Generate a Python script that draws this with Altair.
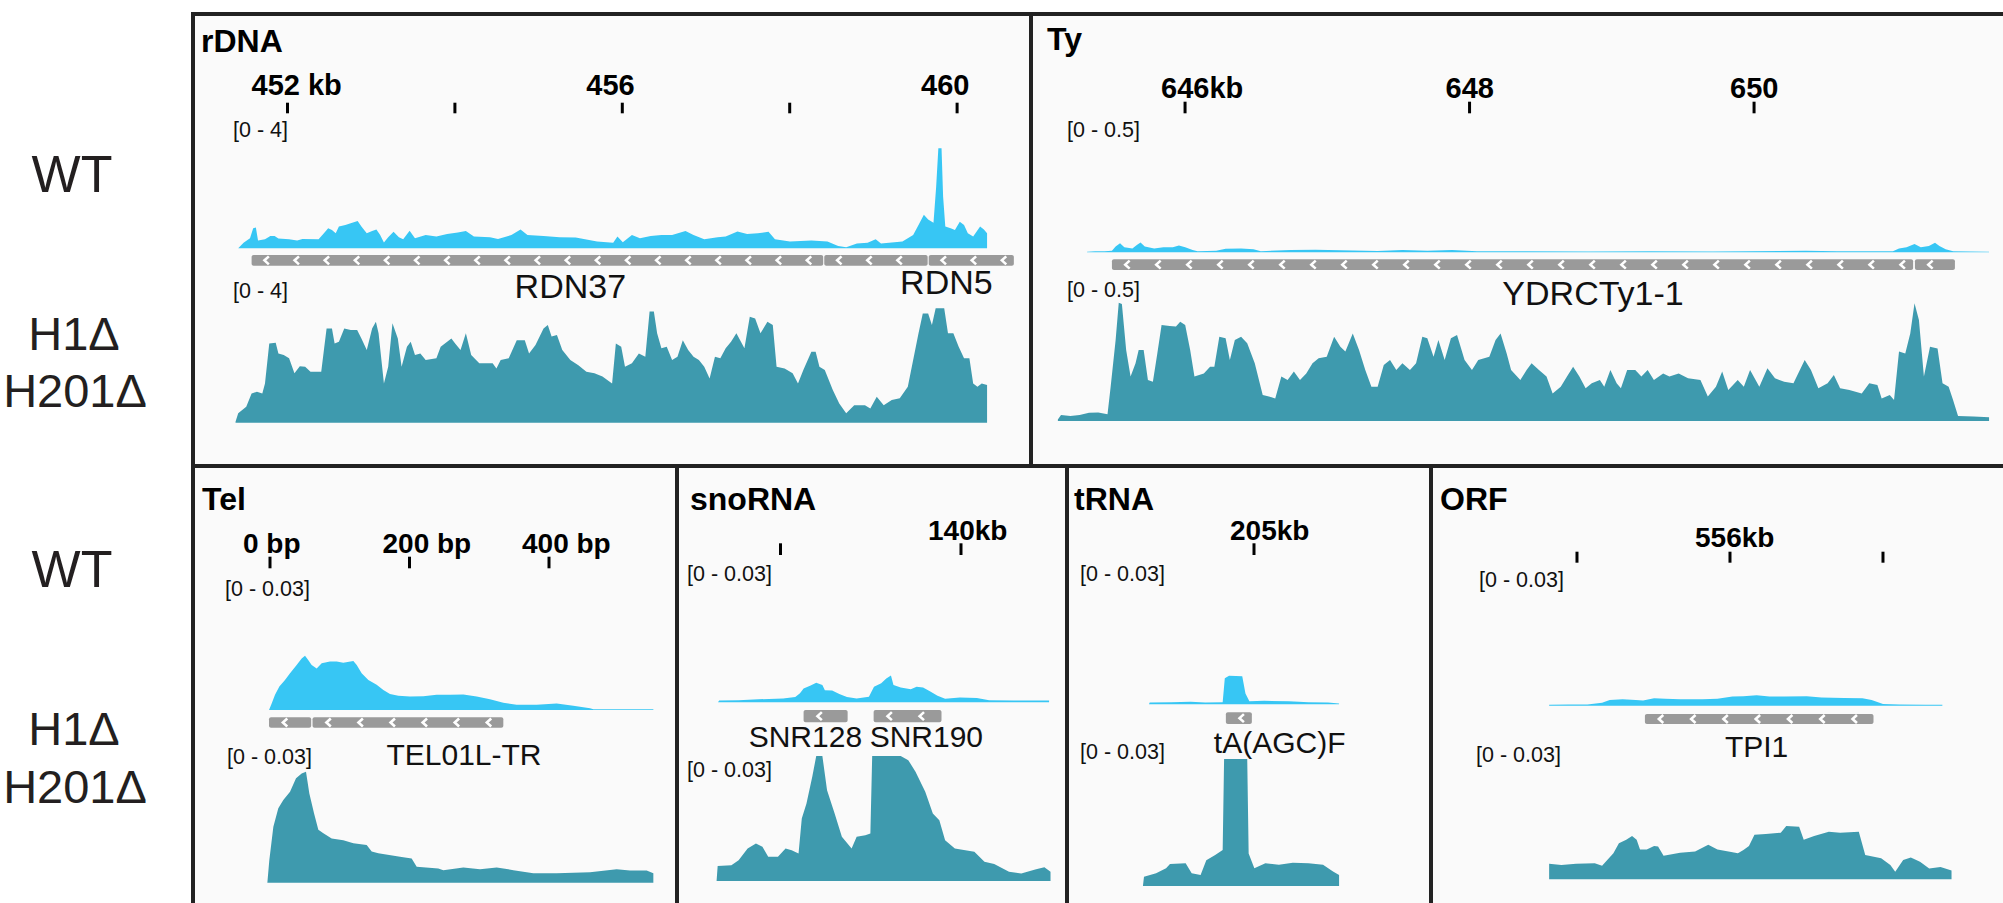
import altair as alt
import pandas as pd

FONT = "Liberation Sans"
WT_COLOR = "#37c6f4"
MUT_COLOR = "#3e9aae"
GENE_GRAY = "#9a9a9a"
BORDER = "#222222"
PANEL_BG = "#fafafa"
INK = "#111111"
LABEL_INK = "#231f20"

# ---------------------------------------------------------------- rDNA (kb)
RDNA_WT_POS = [
    451.411, 451.475, 451.552, 451.590, 451.622, 451.648, 451.731, 451.795, 451.846, 451.891,
    452.019, 452.115, 452.179, 452.371, 452.435, 452.486, 452.531, 452.576, 452.614, 452.691,
    452.755, 452.838, 452.883, 452.947, 453.011, 453.062, 453.107, 453.152, 453.203, 453.267,
    453.331, 453.382, 453.459, 453.523, 453.651, 453.779, 453.907, 454.035, 454.131, 454.227,
    454.419, 454.515, 454.675, 454.784, 454.867, 455.059, 455.251, 455.443, 455.699, 455.891,
    455.942, 456.006, 456.115, 456.211, 456.339, 456.467, 456.595, 456.755, 456.851, 456.979,
    457.139, 457.235, 457.376, 457.491, 457.619, 457.747, 457.824, 458.003, 458.259, 458.451,
    458.579, 458.675, 458.803, 458.931, 459.027, 459.091, 459.347, 459.475, 459.539, 459.603,
    459.654, 459.718, 459.750, 459.776, 459.814, 459.833, 459.859, 459.923, 459.974, 460.032,
    460.083, 460.128, 460.192, 460.275, 460.320, 460.358,
]
RDNA_WT_VAL = [
    0.00, 0.17, 0.31, 0.62, 0.64, 0.24, 0.28, 0.38, 0.38, 0.30,
    0.28, 0.24, 0.29, 0.28, 0.46, 0.62, 0.56, 0.46, 0.67, 0.72,
    0.77, 0.84, 0.67, 0.46, 0.53, 0.58, 0.41, 0.18, 0.34, 0.51,
    0.34, 0.28, 0.54, 0.31, 0.41, 0.36, 0.44, 0.49, 0.53, 0.36,
    0.34, 0.29, 0.41, 0.58, 0.41, 0.38, 0.34, 0.33, 0.21, 0.17,
    0.36, 0.19, 0.41, 0.31, 0.38, 0.41, 0.41, 0.53, 0.41, 0.28,
    0.34, 0.36, 0.52, 0.44, 0.46, 0.51, 0.28, 0.21, 0.24, 0.21,
    0.07, 0.03, 0.15, 0.17, 0.28, 0.15, 0.21, 0.41, 0.72, 1.03,
    0.89, 0.79, 1.90, 3.08, 3.08, 1.59, 0.67, 0.62, 0.56, 0.82,
    0.72, 0.46, 0.36, 0.67, 0.58, 0.46,
]
RDNA_MUT_POS = [
    451.379, 451.411, 451.507, 451.571, 451.635, 451.699, 451.731, 451.782, 451.859, 451.891,
    451.955, 452.019, 452.083, 452.147, 452.211, 452.275, 452.403, 452.435, 452.467, 452.531,
    452.563, 452.614, 452.678, 452.755, 452.832, 452.883, 452.947, 453.011, 453.056, 453.088,
    453.152, 453.203, 453.254, 453.318, 453.363, 453.427, 453.472, 453.523, 453.587, 453.651,
    453.779, 453.830, 453.958, 454.003, 454.067, 454.131, 454.195, 454.291, 454.451, 454.496,
    454.547, 454.643, 454.739, 454.835, 454.886, 454.963, 455.059, 455.110, 455.155, 455.219,
    455.283, 455.379, 455.475, 455.571, 455.667, 455.763, 455.878, 455.923, 455.987, 456.032,
    456.115, 456.198, 456.275, 456.326, 456.377, 456.416, 456.467, 456.531, 456.595, 456.659,
    456.723, 456.787, 456.851, 456.915, 456.979, 457.043, 457.107, 457.171, 457.235, 457.299,
    457.363, 457.459, 457.523, 457.587, 457.651, 457.734, 457.798, 457.843, 457.939, 458.035,
    458.099, 458.163, 458.259, 458.310, 458.355, 458.419, 458.515, 458.592, 458.675, 458.771,
    458.899, 458.963, 459.040, 459.123, 459.219, 459.315, 459.411, 459.475, 459.539, 459.590,
    459.654, 459.699, 459.744, 459.846, 459.891, 459.955, 460.019, 460.083, 460.147, 460.192,
    460.243, 460.294, 460.358,
]
RDNA_MUT_VAL = [
    0.03, 0.29, 0.49, 0.90, 0.95, 0.90, 1.21, 2.44, 2.46, 2.13,
    2.08, 1.98, 1.52, 1.74, 1.72, 1.57, 1.57, 2.24, 2.90, 2.90,
    2.44, 2.49, 2.90, 2.85, 2.85, 2.59, 2.24, 2.90, 3.11, 2.75,
    1.21, 1.72, 3.06, 2.59, 1.72, 2.34, 2.49, 2.08, 2.13, 1.93,
    1.98, 2.34, 2.59, 2.44, 2.24, 2.75, 2.08, 1.83, 1.83, 1.67,
    1.93, 1.98, 2.54, 2.54, 2.13, 2.39, 2.90, 3.01, 2.65, 2.70,
    2.24, 1.93, 1.77, 1.57, 1.52, 1.42, 1.21, 2.44, 2.34, 1.72,
    1.83, 2.13, 2.03, 3.42, 3.42, 2.75, 2.29, 2.34, 1.93, 2.03,
    2.54, 2.24, 2.03, 1.93, 1.72, 1.36, 2.03, 1.98, 2.29, 2.49,
    2.75, 2.29, 3.26, 3.21, 2.75, 3.11, 3.01, 1.72, 1.67, 1.52,
    1.21, 1.62, 2.18, 2.18, 1.72, 1.62, 1.01, 0.59, 0.29, 0.54,
    0.54, 0.44, 0.80, 0.54, 0.70, 0.75, 1.11, 1.93, 2.75, 3.36,
    3.36, 3.01, 3.52, 3.52, 2.75, 2.75, 2.34, 1.98, 1.98, 1.21,
    1.11, 1.21, 1.16,
]
RDNA_GENE_START = [451.571, 458.413, 459.661]
RDNA_GENE_END = [458.400, 459.648, 460.678]
RDNA_GENE_NAMES = ["RDN37", "RDN5"]
RDNA_GENE_NAME_POS = [455.379, 459.872]

# ---------------------------------------------------------------- Ty (kb)
TY_WT_POS = [
    645.311, 645.368, 645.434, 645.486, 645.512, 645.543, 645.573, 645.630, 645.661, 645.687,
    645.717, 645.783, 645.848, 645.914, 645.957, 646.001, 646.053, 646.088, 646.219, 646.285,
    646.394, 646.481, 646.533, 646.743, 646.917, 647.092, 647.354, 647.528, 647.703, 647.877,
    648.052, 648.401, 648.837, 649.274, 649.710, 650.365, 650.583, 650.976, 651.019, 651.072,
    651.128, 651.172, 651.229, 651.272, 651.303, 651.347, 651.399, 651.652,
]
TY_WT_VAL = [
    0.002, 0.004, 0.004, 0.006, 0.022, 0.035, 0.019, 0.015, 0.028, 0.038,
    0.022, 0.015, 0.019, 0.019, 0.026, 0.019, 0.009, 0.004, 0.006, 0.014,
    0.015, 0.012, 0.004, 0.009, 0.010, 0.008, 0.005, 0.009, 0.006, 0.009,
    0.004, 0.004, 0.003, 0.004, 0.003, 0.006, 0.004, 0.004, 0.015, 0.019,
    0.032, 0.019, 0.024, 0.037, 0.024, 0.012, 0.004, 0.002,
]
TY_MUT_POS = [
    645.106, 645.128, 645.194, 645.259, 645.325, 645.390, 645.455, 645.477, 645.512, 645.534,
    645.556, 645.586, 645.617, 645.652, 645.674, 645.709, 645.739, 645.774, 645.805, 645.835,
    645.892, 645.936, 645.966, 646.001, 646.036, 646.066, 646.132, 646.176, 646.206, 646.241,
    646.285, 646.315, 646.350, 646.394, 646.437, 646.490, 646.546, 646.590, 646.634, 646.677,
    646.721, 646.765, 646.808, 646.852, 646.896, 646.939, 646.996, 647.048, 647.092, 647.127,
    647.179, 647.223, 647.267, 647.310, 647.354, 647.397, 647.441, 647.485, 647.528, 647.581,
    647.624, 647.668, 647.703, 647.747, 647.781, 647.825, 647.869, 647.912, 647.965, 648.017,
    648.061, 648.139, 648.183, 648.218, 648.261, 648.292, 648.357, 648.401, 648.436, 648.488,
    648.541, 648.584, 648.641, 648.685, 648.728, 648.772, 648.816, 648.859, 648.916, 648.947,
    648.990, 649.034, 649.064, 649.108, 649.165, 649.208, 649.252, 649.296, 649.361, 649.405,
    649.470, 649.536, 649.623, 649.675, 649.732, 649.776, 649.819, 649.885, 649.928, 649.972,
    650.037, 650.094, 650.147, 650.212, 650.277, 650.356, 650.400, 650.452, 650.517, 650.561,
    650.605, 650.670, 650.757, 650.810, 650.867, 650.897, 650.954, 650.984, 651.019, 651.063,
    651.098, 651.128, 651.159, 651.194, 651.237, 651.290, 651.325, 651.368, 651.399, 651.434,
    651.543, 651.652,
]
TY_MUT_VAL = [
    0.006, 0.023, 0.019, 0.023, 0.032, 0.033, 0.026, 0.132, 0.312, 0.455,
    0.450, 0.273, 0.171, 0.222, 0.273, 0.273, 0.158, 0.151, 0.260, 0.369,
    0.365, 0.363, 0.382, 0.369, 0.273, 0.171, 0.183, 0.209, 0.209, 0.324,
    0.318, 0.235, 0.312, 0.324, 0.299, 0.222, 0.100, 0.094, 0.087, 0.171,
    0.158, 0.190, 0.158, 0.183, 0.222, 0.241, 0.247, 0.324, 0.286, 0.267,
    0.337, 0.273, 0.196, 0.132, 0.132, 0.215, 0.235, 0.196, 0.222, 0.196,
    0.222, 0.324, 0.318, 0.247, 0.312, 0.235, 0.318, 0.331, 0.235, 0.196,
    0.235, 0.247, 0.312, 0.337, 0.260, 0.196, 0.158, 0.196, 0.222, 0.196,
    0.171, 0.106, 0.132, 0.171, 0.209, 0.171, 0.126, 0.145, 0.158, 0.132,
    0.196, 0.145, 0.126, 0.196, 0.196, 0.171, 0.196, 0.158, 0.183, 0.171,
    0.183, 0.164, 0.158, 0.094, 0.132, 0.190, 0.119, 0.158, 0.132, 0.196,
    0.132, 0.203, 0.164, 0.151, 0.145, 0.235, 0.196, 0.126, 0.145, 0.177,
    0.126, 0.119, 0.106, 0.145, 0.138, 0.087, 0.100, 0.081, 0.267, 0.260,
    0.337, 0.453, 0.388, 0.171, 0.286, 0.279, 0.145, 0.132, 0.081, 0.019,
    0.017, 0.014,
]
TY_GENE_START = [645.486, 651.131]
TY_GENE_END = [651.118, 651.412]
TY_GENE_NAMES = ["YDRCTy1-1"]
TY_GENE_NAME_POS = [648.868]

# ---------------------------------------------------------------- Tel (bp)
TEL_WT_POS = [
    -1.4, 2.4, 7.2, 13.4, 21.5, 28.7, 38.2, 45.4, 50.2, 55.0,
    59.7, 66.9, 74.1, 86.0, 95.6, 105.1, 119.5, 124.3, 131.4, 141.0,
    152.9, 162.5, 172.0, 184.0, 200.7, 219.8, 238.9, 258.1, 277.2, 296.3,
    315.4, 334.5, 353.6, 382.3, 411.0, 434.9, 458.8, 463.6, 549.6,
]
TEL_WT_VAL = [
    0.0, 0.0015, 0.0035, 0.0054, 0.0069, 0.0085, 0.0104, 0.0119, 0.0125, 0.0115,
    0.0104, 0.0096, 0.0108, 0.0112, 0.0112, 0.0109, 0.0113, 0.0104, 0.0085, 0.0069,
    0.0058, 0.0046, 0.0037, 0.0033, 0.0031, 0.0032, 0.0035, 0.0035, 0.0036, 0.0031,
    0.0025, 0.0017, 0.0012, 0.0012, 0.0015, 0.0010, 0.0004, 0.0002, 0.0002,
]
TEL_MUT_POS = [
    -3.8, -1.0, 4.8, 11.9, 19.1, 28.7, 37.3, 45.4, 51.6, 56.4,
    63.1, 69.3, 76.5, 88.4, 105.1, 119.5, 138.6, 145.8, 155.3, 186.4,
    203.1, 210.3, 241.3, 248.5, 277.2, 301.1, 325.0, 348.9, 377.5, 411.0,
    458.8, 497.0, 516.1, 540.0, 549.6,
]
TEL_MUT_VAL = [
    0.0, 0.0052, 0.0129, 0.0172, 0.0191, 0.0210, 0.0241, 0.0252, 0.0256, 0.0206,
    0.0160, 0.0122, 0.0114, 0.0102, 0.0098, 0.0091, 0.0087, 0.0072, 0.0068, 0.0060,
    0.0056, 0.0037, 0.0033, 0.0029, 0.0035, 0.0031, 0.0035, 0.0029, 0.0022, 0.0022,
    0.0024, 0.0031, 0.0028, 0.0028, 0.0022,
]
TEL_GENE_START = [-1.4, 61.0]
TEL_GENE_END = [59.0, 334.5]
TEL_GENE_NAMES = ["TEL01L-TR"]
TEL_GENE_NAME_POS = [278.1]

# ---------------------------------------------------------------- snoRNA (kb)
SNO_WT_POS = [
    139.327, 139.330, 139.384, 139.439, 139.507, 139.541, 139.554, 139.564, 139.582, 139.599,
    139.616, 139.623, 139.643, 139.663, 139.684, 139.711, 139.745, 139.759, 139.779, 139.793,
    139.806, 139.813, 139.833, 139.861, 139.877, 139.895, 139.915, 139.935, 139.956, 139.997,
    140.044, 140.078, 140.146, 140.174, 140.244,
]
SNO_WT_VAL = [
    0.0, 0.0004, 0.0005, 0.0007, 0.0009, 0.0012, 0.0021, 0.0032, 0.0038, 0.0045,
    0.0040, 0.0028, 0.0027, 0.0019, 0.0012, 0.0009, 0.0013, 0.0036, 0.0044, 0.0055,
    0.0062, 0.0040, 0.0034, 0.0030, 0.0036, 0.0034, 0.0025, 0.0015, 0.0008, 0.0011,
    0.0010, 0.0005, 0.0004, 0.0004, 0.0004,
]
SNO_MUT_POS = [
    139.323, 139.326, 139.364, 139.384, 139.409, 139.432, 139.450, 139.466, 139.493, 139.514,
    139.531, 139.550, 139.559, 139.572, 139.588, 139.599, 139.616, 139.629, 139.650, 139.670,
    139.697, 139.711, 139.735, 139.749, 139.754, 139.833, 139.854, 139.874, 139.901, 139.922,
    139.940, 139.956, 139.983, 140.037, 140.065, 140.092, 140.133, 140.167, 140.208, 140.231,
    140.248,
]
SNO_MUT_VAL = [
    0.0, 0.0036, 0.0038, 0.0050, 0.0078, 0.0090, 0.0082, 0.0058, 0.0058, 0.0078,
    0.0074, 0.0066, 0.0150, 0.0186, 0.0250, 0.0300, 0.0300, 0.0218, 0.0162, 0.0106,
    0.0078, 0.0106, 0.0110, 0.0114, 0.0300, 0.0300, 0.0290, 0.0262, 0.0214, 0.0162,
    0.0146, 0.0098, 0.0078, 0.0070, 0.0046, 0.0041, 0.0022, 0.0018, 0.0028, 0.0033,
    0.0022,
]
SNO_GENE_START = [139.564, 139.758]
SNO_GENE_END = [139.686, 139.946]
SNO_GENE_NAMES = ["SNR128", "SNR190"]
SNO_GENE_NAME_POS = [139.569, 139.904]

# ---------------------------------------------------------------- tRNA (kb)
TRNA_WT_POS = [
    204.705, 204.707, 204.767, 204.822, 204.863, 204.912, 204.918, 204.930, 204.967, 204.976,
    204.987, 205.029, 205.098, 205.153, 205.208, 205.239,
]
TRNA_WT_VAL = [
    0.0, 0.0004, 0.0005, 0.0006, 0.0004, 0.0005, 0.0060, 0.0066, 0.0065, 0.0025,
    0.0007, 0.0008, 0.0007, 0.0005, 0.0004, 0.0002,
]
TRNA_MUT_POS = [
    204.688, 204.691, 204.725, 204.753, 204.764, 204.808, 204.825, 204.850, 204.866, 204.891,
    204.912, 204.916, 204.981, 204.985, 205.001, 205.032, 205.070, 205.109, 205.153, 205.194,
    205.222, 205.239,
]
TRNA_MUT_VAL = [
    0.0, 0.0022, 0.0030, 0.0042, 0.0052, 0.0054, 0.0030, 0.0026, 0.0061, 0.0073,
    0.0085, 0.0300, 0.0300, 0.0077, 0.0042, 0.0054, 0.0050, 0.0055, 0.0054, 0.0050,
    0.0034, 0.0026,
]
TRNA_GENE_START = [204.921]
TRNA_GENE_END = [204.994]
TRNA_GENE_NAMES = ["tA(AGC)F"]
TRNA_GENE_NAME_POS = [205.072]

# ---------------------------------------------------------------- ORF (kb)
ORF_WT_POS = [
    555.409, 555.473, 555.534, 555.582, 555.607, 555.649, 555.692, 555.716, 555.752, 555.789,
    555.837, 555.910, 555.959, 556.008, 556.044, 556.087, 556.129, 556.178, 556.251, 556.299,
    556.372, 556.433, 556.463, 556.500, 556.554, 556.639, 556.694,
]
ORF_WT_VAL = [
    0.0002, 0.0003, 0.0003, 0.0007, 0.0013, 0.0015, 0.0013, 0.0012, 0.0017, 0.0016,
    0.0015, 0.0015, 0.0016, 0.0021, 0.0022, 0.0024, 0.0021, 0.0021, 0.0022, 0.0019,
    0.0018, 0.0017, 0.0013, 0.0004, 0.0003, 0.0002, 0.0002,
]
ORF_MUT_POS = [
    555.409, 555.449, 555.497, 555.558, 555.582, 555.619, 555.637, 555.661, 555.680, 555.695,
    555.706, 555.728, 555.752, 555.765, 555.783, 555.837, 555.886, 555.929, 555.959, 555.995,
    556.026, 556.044, 556.062, 556.080, 556.117, 556.166, 556.184, 556.226, 556.241, 556.275,
    556.323, 556.360, 556.421, 556.442, 556.494, 556.524, 556.540, 556.566, 556.591, 556.621,
    556.651, 556.688, 556.724,
]
ORF_MUT_VAL = [
    0.0037, 0.0034, 0.0037, 0.0038, 0.0032, 0.0062, 0.0086, 0.0094, 0.0103, 0.0094,
    0.0071, 0.0071, 0.0079, 0.0078, 0.0056, 0.0063, 0.0066, 0.0082, 0.0071, 0.0066,
    0.0062, 0.0070, 0.0079, 0.0106, 0.0108, 0.0111, 0.0127, 0.0125, 0.0094, 0.0103,
    0.0113, 0.0111, 0.0113, 0.0058, 0.0050, 0.0034, 0.0018, 0.0046, 0.0052, 0.0042,
    0.0026, 0.0029, 0.0021,
]
ORF_GENE_START = [555.722]
ORF_GENE_END = [556.469]
ORF_GENE_NAMES = ["TPI1"]
ORF_GENE_NAME_POS = [556.087]

# ruler ticks
RDNA_TICKS = [452, 454, 456, 458, 460]
RDNA_TICK_LABELS = ["452 kb", "", "456", "", "460"]
TY_TICKS = [646, 648, 650]
TY_TICK_LABELS = ["646kb", "648", "650"]
TEL_TICKS = [0, 200, 400]
TEL_TICK_LABELS = ["0 bp", "200 bp", "400 bp"]
SNO_TICKS = [139.5, 140.0]
SNO_TICK_LABELS = ["", "140kb"]
TRNA_TICKS = [205.0]
TRNA_TICK_LABELS = ["205kb"]
ORF_TICKS = [555.5, 556.0, 556.5]
ORF_TICK_LABELS = ["", "556kb", ""]

ROW_WT = "WT"
ROW_MUT = ["H1\u0394", "H201\u0394"]

# IGV-style strand chevron
CHEVRON = "M0.55,-1 L-0.55,0 L0.55,1"

FRAME = 4      # width of the dark panel frame
OFF = 2        # layout positions below are measured from the frame's centre line


def chevron_positions(starts, ends, spacing):
    out = []
    for a, b in zip(starts, ends):
        p = a + spacing / 2
        while p < b - spacing * 0.2:
            out.append(p)
            p += spacing
    return out


def text_layer(t, x, y, size, weight="normal", align="left", color=INK):
    return alt.Chart(pd.DataFrame({"t": [t]})).mark_text(
        font=FONT, fontSize=size, fontWeight=weight, align=align,
        baseline="alphabetic", color=color,
    ).encode(x=alt.value(x), y=alt.value(y), text="t:N")


def build_panel(p):
    W, H = p["size"]
    xs = alt.Scale(domain=p["domain"], nice=False, zero=False)

    def xq(field="pos"):
        return alt.X(f"{field}:Q", scale=xs, axis=None)

    layers = []
    # coverage tracks
    for pos, val, ymax, base, top, color in p["tracks"]:
        if len(pos) != len(val):
            raise ValueError(f"{p['title']}: {len(pos)} positions vs {len(val)} values")
        df = pd.DataFrame({"pos": pos, "val": val})
        layers.append(
            alt.Chart(df).mark_area(color=color, interpolate="linear").encode(
                x=xq(),
                y=alt.Y("val:Q", axis=None,
                        scale=alt.Scale(domain=[0, ymax], range=[base + OFF, top + OFF],
                                        clamp=True, nice=False)),
            )
        )

    # ruler
    ticks = pd.DataFrame({"pos": p["ticks"], "label": p["tick_labels"]})
    ty0, ty1 = p["tick_y"]
    layers.append(alt.Chart(ticks).mark_rule(color="black", strokeWidth=3).encode(
        x=xq(), y=alt.value(ty0 + OFF), y2=alt.value(ty1 + OFF)))
    layers.append(alt.Chart(ticks).mark_text(
        font=FONT, fontSize=p["tick_fs"], fontWeight="bold", align="left",
        baseline="alphabetic", dx=p["tick_dx"], color="black",
    ).encode(x=xq(), y=alt.value(p["tick_label_y"] + OFF), text="label:N"))

    # gene annotation
    gstart, gend = p["genes"]
    genes = pd.DataFrame({"start": gstart, "end": gend})
    gy0, gy1 = p["gene_y"]
    layers.append(alt.Chart(genes).mark_rect(color=GENE_GRAY, cornerRadius=2).encode(
        x=xq("start"), x2="end:Q", y=alt.value(gy0 + OFF), y2=alt.value(gy1 + OFF)))
    chev = pd.DataFrame({"pos": chevron_positions(gstart, gend, p["chev_step"])})
    layers.append(alt.Chart(chev).mark_point(
        shape=CHEVRON, filled=False, stroke="white", strokeWidth=2.6, size=64, opacity=1,
    ).encode(x=xq(), y=alt.value((gy0 + gy1) / 2 + OFF)))
    names, name_pos = p["gene_names"]
    for i, (n, gp) in enumerate(zip(names, name_pos)):
        nd = pd.DataFrame({"pos": [gp], "t": [n]})
        layers.append(alt.Chart(nd).mark_text(
            font=FONT, fontSize=p["gene_fs"], align="center", baseline="alphabetic", color=INK,
        ).encode(x=xq(), y=alt.value(p["gene_label_y"][i] + OFF), text="t:N"))

    # data range labels and panel title
    for t, x, y in p["range_labels"]:
        layers.append(text_layer(t, x + OFF, y + OFF, 21.5))
    tx, tyy = p["title_xy"]
    layers.append(text_layer(p["title"], tx + OFF, tyy + OFF, 32, weight="bold", color="black"))

    # panel frame: top and left edges, kept inside the panel
    frame = pd.DataFrame({"k": [0]})
    layers.append(alt.Chart(frame).mark_rect(color=BORDER).encode(
        x=alt.value(0), x2=alt.value(W), y=alt.value(0), y2=alt.value(FRAME)))
    layers.append(alt.Chart(frame).mark_rect(color=BORDER).encode(
        x=alt.value(0), x2=alt.value(FRAME), y=alt.value(0), y2=alt.value(H)))

    return alt.layer(*layers).resolve_scale(y="independent").properties(
        width=W, height=H, view=alt.ViewBackground(fill=PANEL_BG, stroke=None))


TOP_H, BOT_H = 452, 439
LABEL_W = 191

panels = {
    "rDNA": dict(
        title="rDNA", size=(838, TOP_H), domain=[450.847, 460.859], title_xy=(8, 37.7),
        ticks=RDNA_TICKS, tick_labels=RDNA_TICK_LABELS, tick_y=(88.7, 99.3),
        tick_label_y=81, tick_dx=-36, tick_fs=29,
        range_labels=[("[0 - 4]", 40, 123.3), ("[0 - 4]", 40, 283.6)],
        tracks=[(RDNA_WT_POS, RDNA_WT_VAL, 4, 234.3, 104.3, WT_COLOR),
                (RDNA_MUT_POS, RDNA_MUT_VAL, 4, 408.7, 278.7, MUT_COLOR)],
        genes=(RDNA_GENE_START, RDNA_GENE_END), gene_y=(241, 251.7), chev_step=0.36,
        gene_names=(RDNA_GENE_NAMES, RDNA_GENE_NAME_POS), gene_label_y=[283.5, 280], gene_fs=34,
    ),
    "Ty": dict(
        title="Ty", size=(974, TOP_H), domain=[644.903, 651.750], title_xy=(16, 36),
        ticks=TY_TICKS, tick_labels=TY_TICK_LABELS, tick_y=(87.7, 99.3),
        tick_label_y=84.3, tick_dx=-24, tick_fs=29,
        range_labels=[("[0 - 0.5]", 36, 123.3), ("[0 - 0.5]", 36, 283.3)],
        tracks=[(TY_WT_POS, TY_WT_VAL, 0.5, 238.3, 108.3, WT_COLOR),
                (TY_MUT_POS, TY_MUT_VAL, 0.5, 407, 277, MUT_COLOR)],
        genes=(TY_GENE_START, TY_GENE_END), gene_y=(245.3, 256), chev_step=0.218,
        gene_names=(TY_GENE_NAMES, TY_GENE_NAME_POS), gene_label_y=[291], gene_fs=34,
    ),
    "Tel": dict(
        title="Tel", size=(484, BOT_H), domain=[-113.27, 580.64], title_xy=(9, 44),
        ticks=TEL_TICKS, tick_labels=TEL_TICK_LABELS, tick_y=(90.7, 102.3),
        tick_label_y=87.3, tick_dx=-27, tick_fs=28,
        range_labels=[("[0 - 0.03]", 32, 129.6), ("[0 - 0.03]", 34, 297.9)],
        tracks=[(TEL_WT_POS, TEL_WT_VAL, 0.03, 244, 114, WT_COLOR),
                (TEL_MUT_POS, TEL_MUT_VAL, 0.03, 416.7, 286.7, MUT_COLOR)],
        genes=(TEL_GENE_START, TEL_GENE_END), gene_y=(251.3, 261.7), chev_step=46,
        gene_names=(TEL_GENE_NAMES, TEL_GENE_NAME_POS), gene_label_y=[299], gene_fs=30,
    ),
    "snoRNA": dict(
        title="snoRNA", size=(390, BOT_H), domain=[139.2078, 140.2881], title_xy=(13, 44),
        ticks=SNO_TICKS, tick_labels=SNO_TICK_LABELS, tick_y=(77.3, 89),
        tick_label_y=74, tick_dx=-33, tick_fs=28,
        range_labels=[("[0 - 0.03]", 10, 114.6), ("[0 - 0.03]", 10, 311.3)],
        tracks=[(SNO_WT_POS, SNO_WT_VAL, 0.03, 236.3, 106.3, WT_COLOR),
                (SNO_MUT_POS, SNO_MUT_VAL, 0.03, 415, 290, MUT_COLOR)],
        genes=(SNO_GENE_START, SNO_GENE_END), gene_y=(244, 256.3), chev_step=0.089,
        gene_names=(SNO_GENE_NAMES, SNO_GENE_NAME_POS), gene_label_y=[281.3, 281.3], gene_fs=30,
    ),
    "tRNA": dict(
        title="tRNA", size=(364, BOT_H), domain=[204.4691, 205.4916], title_xy=(7, 44),
        ticks=TRNA_TICKS, tick_labels=TRNA_TICK_LABELS, tick_y=(77.3, 89),
        tick_label_y=74, tick_dx=-24, tick_fs=28,
        range_labels=[("[0 - 0.03]", 13, 114.6), ("[0 - 0.03]", 13, 292.9)],
        tracks=[(TRNA_WT_POS, TRNA_WT_VAL, 0.03, 238.3, 108.3, WT_COLOR),
                (TRNA_MUT_POS, TRNA_MUT_VAL, 0.03, 420, 293, MUT_COLOR)],
        genes=(TRNA_GENE_START, TRNA_GENE_END), gene_y=(246.3, 258), chev_step=0.089,
        gene_names=(TRNA_GENE_NAMES, TRNA_GENE_NAME_POS), gene_label_y=[287], gene_fs=30,
    ),
    "ORF": dict(
        title="ORF", size=(574, BOT_H), domain=[555.0164, 556.8922], title_xy=(9, 44),
        ticks=ORF_TICKS, tick_labels=ORF_TICK_LABELS, tick_y=(85.7, 96.7),
        tick_label_y=81.3, tick_dx=-35, tick_fs=28,
        range_labels=[("[0 - 0.03]", 48, 121.3), ("[0 - 0.03]", 45, 296.3)],
        tracks=[(ORF_WT_POS, ORF_WT_VAL, 0.03, 239.7, 109.7, WT_COLOR),
                (ORF_MUT_POS, ORF_MUT_VAL, 0.03, 413.3, 287.3, MUT_COLOR)],
        genes=(ORF_GENE_START, ORF_GENE_END), gene_y=(248, 258), chev_step=0.1055,
        gene_names=(ORF_GENE_NAMES, ORF_GENE_NAME_POS), gene_label_y=[290.7], gene_fs=30,
    ),
}


def sample_labels(height, wt_y, mut_y1, mut_y2):
    layers = [
        text_layer(ROW_WT, 72, wt_y, 52, align="center", color=LABEL_INK),
        text_layer(ROW_MUT[0], 74, mut_y1, 47, align="center", color=LABEL_INK),
        text_layer(ROW_MUT[1], 75, mut_y2, 47, align="center", color=LABEL_INK),
    ]
    return alt.layer(*layers).properties(
        width=LABEL_W, height=height, view=alt.ViewBackground(fill="white", stroke=None))


top_row = alt.hconcat(
    sample_labels(TOP_H, 180, 338, 395),
    build_panel(panels["rDNA"]), build_panel(panels["Ty"]),
    spacing=0, bounds="flush",
)
bottom_row = alt.hconcat(
    sample_labels(BOT_H, 123, 281, 339),
    build_panel(panels["Tel"]), build_panel(panels["snoRNA"]),
    build_panel(panels["tRNA"]), build_panel(panels["ORF"]),
    spacing=0, bounds="flush",
)

chart = alt.vconcat(top_row, bottom_row, spacing=0).properties(
    padding={"left": 0, "top": 12, "right": 0, "bottom": 0},
    background="white",
).configure_view(stroke=None)

chart.save("out.html", embed_options={"renderer": "svg", "actions": False})
